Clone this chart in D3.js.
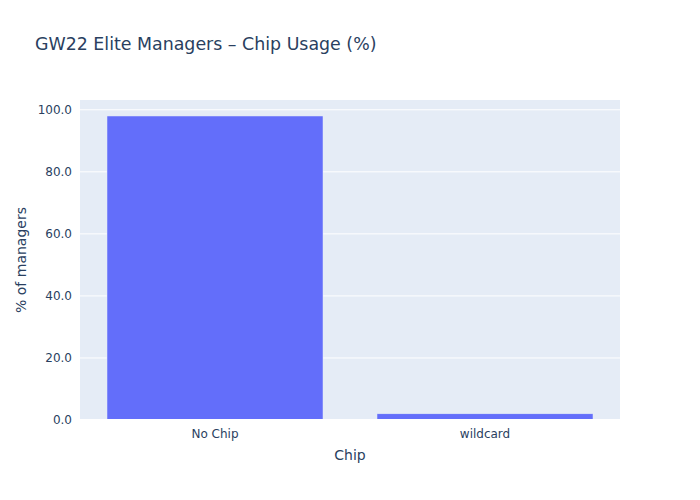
<!DOCTYPE html>
<html>
<head>
<meta charset="utf-8">
<script src="https://cdn.jsdelivr.net/npm/d3@7"></script>
<style>
  body { margin: 0; background: #fff; }
  text { font-family: "DejaVu Sans", Verdana, Arial, sans-serif; fill: #2a3f5f; }
</style>
</head>
<body>
<svg id="chart"></svg>
<script>
const chips = ["No Chip", "wildcard"];
const percents = [98.0, 2.0];
const yTicks = [0, 20, 40, 60, 80, 100];

const width = 700, height = 500;
const margin = {top: 100, right: 80, bottom: 80, left: 80};
const innerW = width - margin.left - margin.right;
const innerH = height - margin.top - margin.bottom;

const svg = d3.select("#chart").attr("width", width).attr("height", height);

svg.append("rect")
    .attr("x", margin.left).attr("y", margin.top)
    .attr("width", innerW).attr("height", innerH)
    .attr("fill", "#e5ecf6");

const chart = svg.append("g")
    .attr("transform", `translate(${margin.left}, ${margin.top})`);

const xscale = d3.scaleBand().domain(chips).range([0, innerW])
    .paddingInner(0.2).paddingOuter(0.1);
const yscale = d3.scaleLinear()
    .domain([0, d3.max(percents) * 1.0526])
    .range([innerH, 0]);

// grid
chart.selectAll(".grid")
    .data(yTicks.filter(d => d > 0))
    .join("line")
    .attr("x1", 0).attr("x2", innerW)
    .attr("y1", d => yscale(d)).attr("y2", d => yscale(d))
    .attr("stroke", "#fff").attr("stroke-width", 1);

// bars
chart.selectAll(".bar")
    .data(chips)
    .join("rect")
    .attr("x", d => xscale(d))
    .attr("width", xscale.bandwidth())
    .attr("y", (d, i) => yscale(percents[i]))
    .attr("height", (d, i) => innerH - yscale(percents[i]))
    .attr("fill", "#636efa")
    .attr("stroke", "#e5ecf6").attr("stroke-width", 0.5);

// zero line
chart.append("line")
    .attr("x1", 0).attr("x2", innerW)
    .attr("y1", yscale(0)).attr("y2", yscale(0))
    .attr("stroke", "#fff").attr("stroke-width", 2);

const yaxis = d3.axisLeft(yscale).tickValues(yTicks).tickFormat(d3.format(".1f")).tickSize(0).tickPadding(8);
const yg = chart.append("g").call(yaxis);
yg.select(".domain").remove();
yg.selectAll("text").style("font-size", "12px").attr("fill", "#2a3f5f");

const xaxis = d3.axisBottom(xscale).tickSize(0).tickPadding(9);
const xg = chart.append("g").attr("transform", `translate(0, ${innerH})`).call(xaxis);
xg.select(".domain").remove();
xg.selectAll("text").style("font-size", "12px").attr("fill", "#2a3f5f");

svg.append("text")
    .attr("x", 35).attr("y", 50)
    .style("font-size", "17.4px")
    .text("GW22 Elite Managers \u2013 Chip Usage (%)");

svg.append("text")
    .attr("x", margin.left + innerW / 2).attr("y", 460)
    .attr("text-anchor", "middle")
    .style("font-size", "14px")
    .text("Chip");

svg.append("text")
    .attr("transform", `translate(26, ${margin.top + innerH / 2}) rotate(-90)`)
    .attr("text-anchor", "middle")
    .style("font-size", "14px")
    .text("% of managers");
</script>
</body>
</html>
